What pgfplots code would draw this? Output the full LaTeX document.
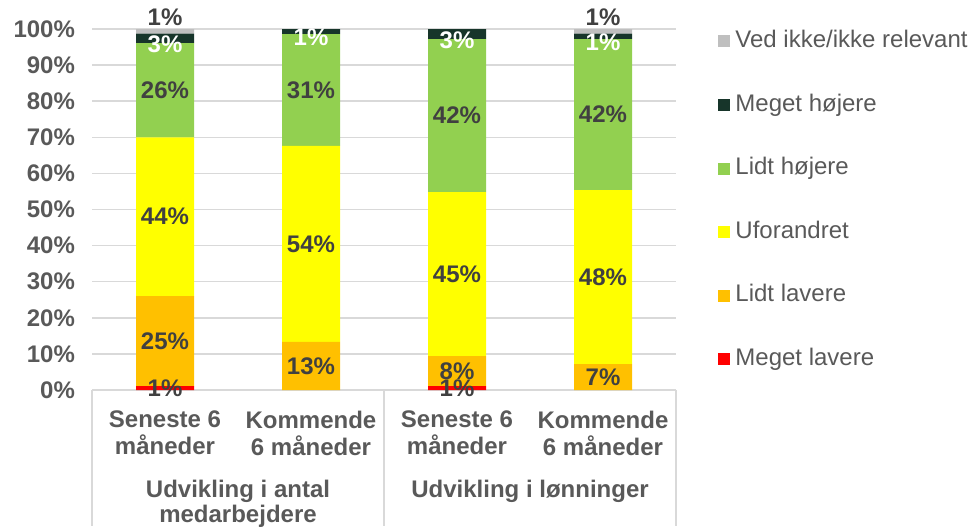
\documentclass[border=0pt]{standalone}
\usepackage{fontspec}
\setmainfont{Liberation Sans}
\usepackage{pgfplots}
\pgfplotsset{compat=1.18}
\definecolor{cGrey}{HTML}{BFBFBF}
\definecolor{cDark}{HTML}{17352A}
\definecolor{cLGreen}{HTML}{92D050}
\definecolor{cYellow}{HTML}{FFFF00}
\definecolor{cOrange}{HTML}{FFC000}
\definecolor{cRed}{HTML}{FF0000}
\definecolor{txt}{HTML}{404040}
\definecolor{axtxt}{HTML}{595959}
\definecolor{gridc}{HTML}{D9D9D9}
\newcommand{\fs}{\fontsize{12}{13.5}\selectfont}
\begin{document}
\begin{tikzpicture}
\begin{axis}[
  at={(0,0)}, anchor=south west,
  scale only axis, width=292pt, height=180.5pt,
  ybar stacked, bar width=29pt,
  xmin=-0.5, xmax=3.5, ymin=0, ymax=100,
  xtick={0,1,2,3},
  xticklabels={{Seneste 6\\måneder},{Kommende\\6 måneder},{Seneste 6\\måneder},{Kommende\\6 måneder}},
  xticklabel style={align=center, font=\fs\bfseries, text=axtxt, yshift=-7pt},
  ytick={0,10,20,30,40,50,60,70,80,90,100},
  yticklabels={0\%,10\%,20\%,30\%,40\%,50\%,60\%,70\%,80\%,90\%,100\%},
  yticklabel style={font=\fs\bfseries, text=axtxt, xshift=-5pt},
  major tick length=0pt,
  axis line style={draw=none},
  ymajorgrids, grid style={gridc, line width=0.75pt},
  clip=false,
  point meta=explicit symbolic,
  nodes near coords,
  every node near coord/.append style={anchor=center, font=\fs\bfseries, text=txt},
  legend style={draw=none, fill=none, at={(1.072,1.0)}, anchor=north west, font=\fs, text=axtxt,
    row sep=19.8pt, column sep=2.5pt, inner sep=0pt,
    nodes={inner sep=0pt, text height=9pt, text depth=3pt}},
  legend cell align=left,
  reverse legend,
  legend image code/.code={\fill[#1] (0pt,-3pt) rectangle (6pt,3pt);},
]
\addplot[fill=cRed, draw=none] coordinates {(0,1.1) [1\%] (1,0) [] (2,1.1) [1\%] (3,0) []};
\addlegendentry{Meget lavere}
\addplot[fill=cOrange, draw=none] coordinates {(0,24.9) [25\%] (1,13.3) [13\%] (2,8.3) [8\%] (3,7.2) [7\%]};
\addlegendentry{Lidt lavere}
\addplot[fill=cYellow, draw=none] coordinates {(0,44.0) [44\%] (1,54.3) [54\%] (2,45.4) [45\%] (3,48.2) [48\%]};
\addlegendentry{Uforandret}
\addplot[fill=cLGreen, draw=none] coordinates {(0,26.1) [26\%] (1,31.0) [31\%] (2,42.4) [42\%] (3,41.8) [42\%]};
\addlegendentry{Lidt højere}
\addplot[fill=cDark, draw=none, nodes near coords style={text=white, yshift=-3pt}] coordinates {(0,2.6) [3\%] (1,1.4) [1\%] (2,2.8) [3\%] (3,1.5) [1\%]};
\addlegendentry{Meget højere}
\addplot[fill=cGrey, draw=none, nodes near coords style={yshift=7pt}] coordinates {(0,1.3) [1\%] (1,0) [] (2,0) [] (3,1.3) [1\%]};
\addlegendentry{Ved ikke/ikke relevant}
\end{axis}
\draw[gridc, line width=0.75pt] (0,0) -- (0,-68pt) (146pt,0) -- (146pt,-68pt) (292pt,0) -- (292pt,-68pt);
\node[font=\fs\bfseries, text=axtxt, anchor=base] at (73pt,-53.5pt) {Udvikling i antal};
\node[font=\fs\bfseries, text=axtxt, anchor=base] at (73pt,-66pt) {medarbejdere};
\node[font=\fs\bfseries, text=axtxt, anchor=base] at (219pt,-53.5pt) {Udvikling i lønninger};
\pgfresetboundingbox
\useasboundingbox (-46pt,-68pt) rectangle (440pt,195pt);
\end{tikzpicture}
\end{document}
